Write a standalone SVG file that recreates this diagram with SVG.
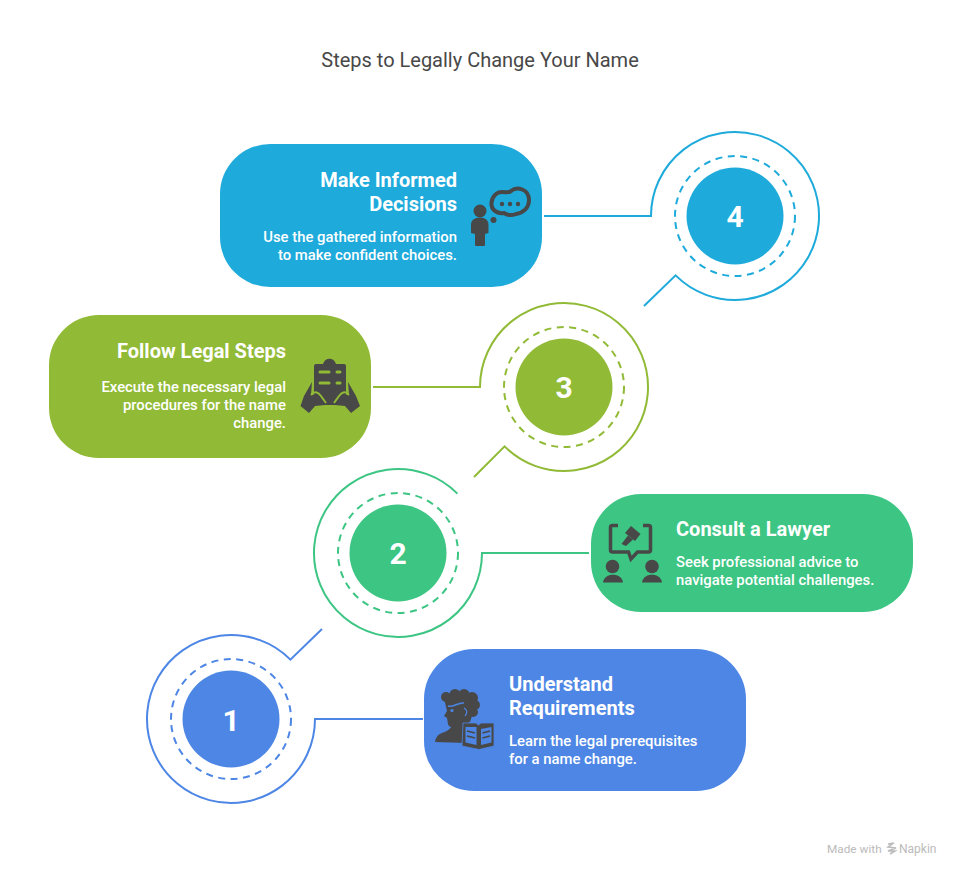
<svg xmlns="http://www.w3.org/2000/svg" width="960" height="876" viewBox="0 0 960 876">
<style>
text{font-family:Roboto,"Liberation Sans",sans-serif}
.title{font-size:20px;fill:#484848;text-anchor:middle}
.h{font-size:20px;font-weight:700;fill:#fff}
.d{font-size:14.85px;font-weight:500;fill:#fff}
.e{text-anchor:end}
.n{font-size:30px;font-weight:700;fill:#fff;text-anchor:middle}
.ln{fill:none;stroke-width:2}
.ds{fill:none;stroke-width:2;stroke-dasharray:7 5.5}
.i{fill:#484848}
.is{fill:none;stroke:#484848}
.blue{stroke:#4D86E5}.green{stroke:#3CC583}.olive{stroke:#91BA36}.cyan{stroke:#1EAADB}
</style>
<rect width="960" height="876" fill="#fff"/>
<text class="title" x="480" y="67">Steps to Legally Change Your Name</text>
<g id="connectors">
<path class="ln blue" d="M423 719H315A84 84 0 1 1 290.400 659.600L322 629"/>
<path class="ln green" d="M589 553H482A84 84 0 1 1 457.400 493.600"/>
<path class="ln olive" d="M373 387H480A84 84 0 1 1 504.600 446.400L474 477"/>
<path class="ln cyan" d="M544 216H651A84 84 0 1 1 675.600 275.400L644 306"/>
</g>
<g id="step-1">
<circle class="ds blue" cx="231" cy="719" r="60"/>
<circle cx="231" cy="719" r="48.500" fill="#4D86E5"/>
<text class="n" x="231" y="731">1</text>
</g>
<g id="step-2">
<circle class="ds green" cx="398" cy="553" r="60"/>
<circle cx="398" cy="553" r="48.500" fill="#3CC583"/>
<text class="n" x="398" y="564">2</text>
</g>
<g id="step-3">
<circle class="ds olive" cx="564" cy="387" r="60"/>
<circle cx="564" cy="387" r="48.500" fill="#91BA36"/>
<text class="n" x="564" y="398">3</text>
</g>
<g id="step-4">
<circle class="ds cyan" cx="735" cy="216" r="60"/>
<circle cx="735" cy="216" r="48.500" fill="#1EAADB"/>
<text class="n" x="735" y="227">4</text>
</g>
<g id="card-understand">
<rect x="424" y="649" width="322" height="142" rx="50" fill="#4D86E5"/>
<text class="h" x="509" y="691">Understand</text>
<text class="h" x="509" y="715">Requirements</text>
<text class="d" x="509" y="746">Learn the legal prerequisites</text>
<text class="d" x="509" y="764">for a name change.</text>
<g>
<circle class="i" cx="446" cy="697" r="5"/><circle class="i" cx="455" cy="694.500" r="5.500"/><circle class="i" cx="464" cy="694.500" r="5.500"/><circle class="i" cx="472" cy="698" r="6"/><circle class="i" cx="475" cy="705" r="5"/><circle class="i" cx="473" cy="712" r="5"/>
<path class="i" d="M444 698L447 711L444 716L447 718L448 724Q449 728 455 727L458 727L470 722L474 710L468 696Z"/>
<path class="i" d="M435 742Q436 735 442 733Q449 731 452 726L466 724V743Z"/>
<path d="M448 706C453 708 458 702 464 703" fill="none" stroke="#4D86E5" stroke-width="1.500"/>
<circle cx="452" cy="710.500" r="1.600" fill="#4D86E5"/>
<path d="M464 708Q469 711 465 716" fill="none" stroke="#4D86E5" stroke-width="1.200"/>
<path class="i" d="M463 723H476L478.500 725L481 723H494V746L479 749.500L462 746Z" stroke="#4D86E5" stroke-width=".8"/>
<path d="M465.500 727H476.500V745L465.500 742.500ZM481 729L491.500 727V742.500L481 745Z" fill="#4D86E5"/>
<path class="is" stroke-width="1.800" d="M467 731L475 733M467 736L475 738M482.500 733L490 731M482.500 738L490 736"/>
</g>
</g>
<g id="card-consult">
<rect x="591" y="494" width="322" height="118" rx="50" fill="#3CC583"/>
<text class="h" x="676" y="536">Consult a Lawyer</text>
<text class="d" x="676" y="567">Seek professional advice to</text>
<text class="d" x="676" y="585">navigate potential challenges.</text>
<g>
<path class="is" stroke-width="3.500" d="M618 525.500H612.500Q610.500 525.500 610.500 527.500V550Q610.500 552 612.500 552H628.500L631 559L637.500 552H648.500Q650.500 552 650.500 550V527.500Q650.500 525.500 648.500 525.500H643"/>
<path class="i" d="M631 526L640.500 534L635 541L625 533Z"/>
<path class="i" d="M628 535.500L633 539.500L626 546L621.500 544Z"/>
<circle class="i" cx="612.500" cy="566.500" r="6.800"/>
<path class="i" d="M603 582.500C604 572 622 572 623 582.500Z"/>
<circle class="i" cx="652" cy="566.500" r="6.800"/>
<path class="i" d="M642 582.500C643 572 661 572 662 582.500Z"/>
</g>
</g>
<g id="card-follow">
<rect x="49" y="315" width="322" height="143" rx="50" fill="#91BA36"/>
<text class="h e" x="286" y="358">Follow Legal Steps</text>
<text class="d e" x="286" y="392">Execute the necessary legal</text>
<text class="d e" x="286" y="410">procedures for the name</text>
<text class="d e" x="286" y="428">change.</text>
<g>
<path class="i" d="M316 364H323C325 357 334 357 336 364H344Q346 364 346 366V396L342 405H318L314 396V366Q314 364 316 364Z"/>
<path d="M320 372H329M337 372H340M320 383H329M337 383H340" fill="none" stroke="#91BA36" stroke-width="3" stroke-linecap="round"/>
<path class="i" d="M312 382L304 396L300.500 406L309 413L315 406L325 405L317 394L311 395Z"/>
<path class="i" d="M348 382L356 396L360 406L351 413L345 406L335 405L343 394L349 395Z"/>
<path d="M311 395Q316 389 321 396L326 403M349 395Q344 389 339 396L334 403" fill="none" stroke="#91BA36" stroke-width="2"/>
</g>
</g>
<g id="card-decisions">
<rect x="220" y="144" width="322" height="143" rx="50" fill="#1EAADB"/>
<text class="h e" x="457" y="187">Make Informed</text>
<text class="h e" x="457" y="211">Decisions</text>
<text class="d e" x="457" y="242">Use the gathered information</text>
<text class="d e" x="457" y="260">to make confident choices.</text>
<g>
<circle class="i" cx="480" cy="211" r="6.500"/>
<path class="i" d="M471 233V225Q471 217.500 480 217.500Q488.500 217.500 488.500 225V233L485 234V245Q485 246 484 246H476Q475 246 475 245V234Z"/>
<circle class="i" cx="493.500" cy="220" r="3"/>
<path class="is" stroke-width="4" d="M502 192C507 192 509 193 511 191C517 186 529 189 529 200C529 208 523 213 516 214C511 216 507 215 504 213C496 214 491 209 491.500 203C492 196 497 192 502 192Z"/>
<circle class="i" cx="502" cy="204" r="2.200"/><circle class="i" cx="510" cy="204" r="2.200"/><circle class="i" cx="518" cy="204" r="2.200"/>
</g>
</g>
<g id="watermark">
<text x="827" y="853" font-size="11.800" fill="#BBBBBB">Made with</text>
<path d="M888 844L894 843L888 847L896 848L888 851L895 851L890 854" stroke="#BBBBBB" stroke-width="1.500" fill="none"/>
<text x="899" y="853" font-size="12" fill="#BBBBBB">Napkin</text>
</g>
</svg>
